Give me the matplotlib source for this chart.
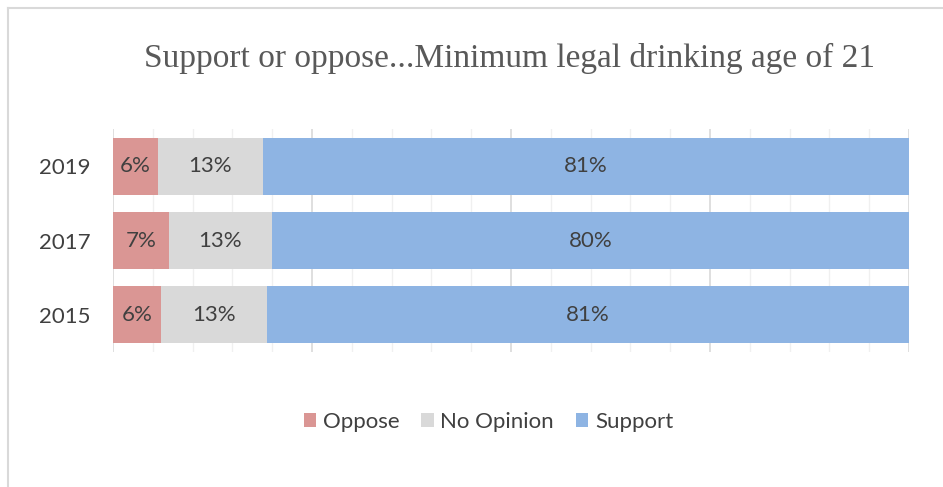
import matplotlib.pyplot as plt
from matplotlib.lines import Line2D
import numpy as np

years = ["2019", "2017", "2015"]
oppose = [5.6, 7.0, 6.0]
no_opinion = [13.2, 13.0, 13.4]
support = [81.2, 80.0, 80.6]

colors = ["#DA9694", "#D9D9D9", "#8EB4E3"]
names = ["Oppose", "No Opinion", "Support"]
txt = "#404040"
sans = "Lato"

fig = plt.figure(figsize=(9.43, 4.87), dpi=100)
ax = fig.add_axes([113 / 943, 1 - 352 / 487, 796 / 943, 223 / 487])

y = np.arange(len(years))
left = np.zeros(len(years))
for vals, c, n in zip([oppose, no_opinion, support], colors, names):
    bars = ax.barh(y, vals, left=left, height=0.765, color=c, label=n, zorder=3)
    ax.bar_label(bars, labels=["%.0f%%" % v for v in vals], label_type="center",
                 color=txt, fontsize=16, family=sans)
    left += vals

ax.set_xlim(0, 100)
ax.set_ylim(2.5, -0.5)
ax.set_yticks(y)
ax.set_yticklabels(years, fontsize=16, color=txt, family=sans)
ax.tick_params(axis="y", length=0, pad=16)
ax.set_xticks(np.arange(0, 101, 25))
ax.set_xticks(np.arange(0, 101, 5), minor=True)
ax.tick_params(axis="x", which="both", length=0, labelbottom=False)
ax.grid(axis="x", which="major", color="#D9D9D9", lw=1.2, zorder=0)
ax.grid(axis="x", which="minor", color="#F0F0F0", lw=1, zorder=0)
for s in ax.spines.values():
    s.set_visible(False)

fig.text(0.540, 1 - 58 / 487, "Support or oppose...Minimum legal drinking age of 21",
         ha="center", va="center", fontsize=24, color="#595959", family="Liberation Serif")

fig.legend(loc="center", bbox_to_anchor=(0.518, 1 - 422 / 487), ncol=3, frameon=False,
           handlelength=0.55, handleheight=0.55, handletextpad=0.3,
           columnspacing=1.0, prop={"family": sans, "size": 16},
           labelcolor=txt)

# outer chart border
fig.add_artist(Line2D([8 / 943, 8 / 943], [0, 1 - 8 / 487], color="#D9D9D9", lw=1.5))
fig.add_artist(Line2D([8 / 943, 1], [1 - 8 / 487, 1 - 8 / 487], color="#D9D9D9", lw=1.5))

fig.savefig("out.png", dpi=100)
